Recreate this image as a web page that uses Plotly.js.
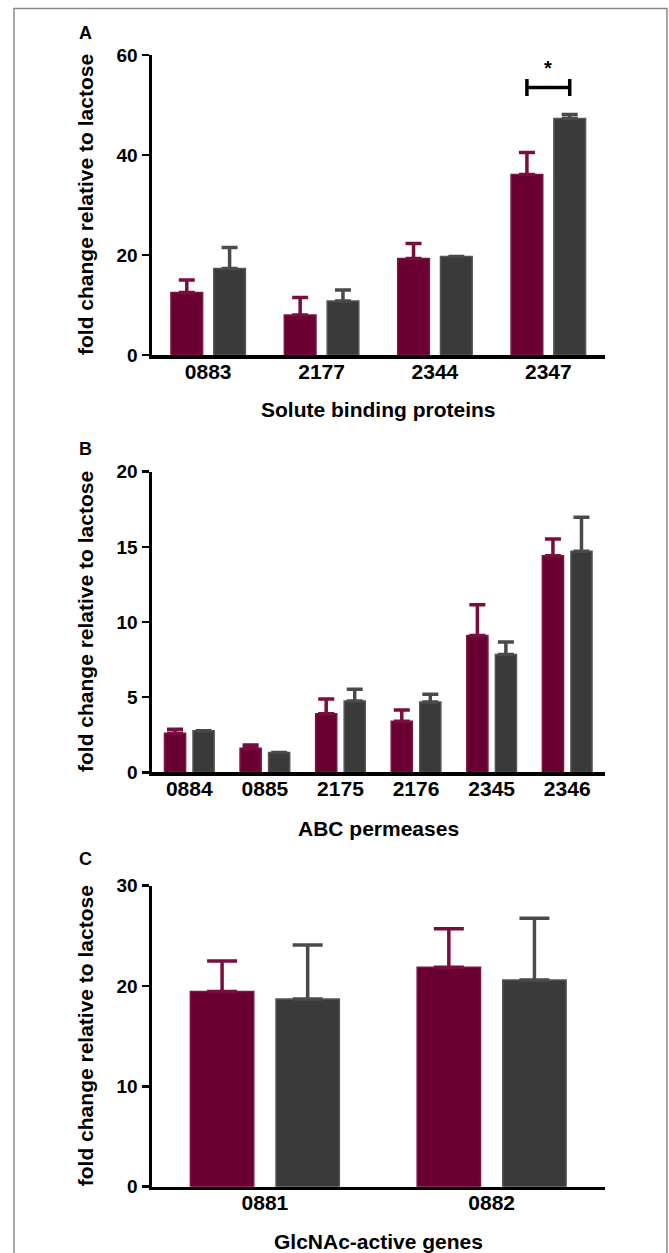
<!DOCTYPE html>
<html><head><meta charset="utf-8">
<script src="https://cdn.plot.ly/plotly-3.0.1.min.js"></script>
<style>html,body{margin:0;padding:0;background:#fff}</style>
</head><body>
<div id="chart" style="width:669px;height:1253px"></div>
<script>
// ---- data ----
const catsA = ['0883', '2177', '2344', '2347'];
const maroonA = [12.5, 8.0, 19.3, 36.1];
const errMaroonA = [2.5, 3.5, 3.0, 4.4];
const greyA = [17.3, 10.8, 19.7, 47.3];
const errGreyA = [4.2, 2.2, 0, 0.8];

const catsB = ['0884', '0885', '2175', '2176', '2345', '2346'];
const maroonB = [2.6, 1.6, 3.9, 3.4, 9.1, 14.4];
const errMaroonB = [0.27, 0.22, 0.97, 0.75, 2.05, 1.13];
const greyB = [2.77, 1.31, 4.75, 4.67, 7.84, 14.7];
const errGreyB = [0, 0, 0.78, 0.53, 0.83, 2.27];

const catsC = ['0881', '0882'];
const maroonC = [19.45, 21.87];
const errMaroonC = [3.05, 3.83];
const greyC = [18.7, 20.6];
const errGreyC = [5.4, 6.15];

const sigCategory = '2347';
const sigY = 53.5;

const panelLabels = ['A', 'B', 'C'];
const xTitles = ['Solute binding proteins', 'ABC permeases', 'GlcNAc-active genes'];
const yTitle = 'fold change relative to lactose';
const yRanges = [[0, 60], [0, 20], [0, 30]];
const yDticks = [20, 5, 10];

// ---- layout helpers ----
const W = 669, H = 1253;
const px = v => v / W;
const py = v => 1 - v / H;
const FONT = 'Liberation Sans, Arial, Helvetica, sans-serif';
const MAROON = '#6a0031', MAROON_EDGE = '#7d1445', MAROON_ERR = '#7a0d40';
const GREY = '#3a3a3a', GREY_EDGE = '#555555', GREY_ERR = '#4a4a4a';
const BARGAP = 0.245;

const xDom = [px(151.5), px(605)];
const panels = [
  {top: 55, bottom: 355, label: 33, xt: 409, cap: 8},
  {top: 471.7, bottom: 772.3, label: 449, xt: 828, cap: 8},
  {top: 885.7, bottom: 1186.7, label: 859, xt: 1241.5, cap: 15}
];
const cats = [catsA, catsB, catsC];
const maroon = [maroonA, maroonB, maroonC];
const errM = [errMaroonA, errMaroonB, errMaroonC];
const grey = [greyA, greyB, greyC];
const errG = [errGreyA, errGreyB, errGreyC];

const traces = [];
const layout = {
  width: W, height: H,
  margin: {l: 0, r: 0, t: 0, b: 0},
  paper_bgcolor: '#fff', plot_bgcolor: '#fff',
  showlegend: false,
  barmode: 'group', bargap: BARGAP, bargroupgap: 0.26,
  font: {family: FONT, color: '#000'},
  annotations: [], shapes: []
};

panels.forEach((p, i) => {
  const k = i === 0 ? '' : String(i + 1);
  const xa = 'x' + k, ya = 'y' + k;
  const zeros = cats[i].map(() => 0);
  traces.push({
    type: 'bar', x: cats[i], y: maroon[i], xaxis: xa, yaxis: ya, name: 'series 1',
    marker: {color: MAROON, line: {color: MAROON_EDGE, width: 1.5}},
    error_y: {type: 'data', symmetric: false, array: errM[i], arrayminus: zeros,
              color: MAROON_ERR, thickness: 3.5, width: p.cap},
    hoverinfo: 'x+y'
  });
  traces.push({
    type: 'bar', x: cats[i], y: grey[i], xaxis: xa, yaxis: ya, name: 'series 2',
    marker: {color: GREY, line: {color: GREY_EDGE, width: 1.5}},
    error_y: {type: 'data', symmetric: false, array: errG[i], arrayminus: zeros,
              color: GREY_ERR, thickness: 3.5, width: p.cap},
    hoverinfo: 'x+y'
  });
  layout['xaxis' + k] = {
    domain: xDom, anchor: ya, type: 'category',
    range: [-0.5, cats[i].length - 0.5],
    showline: true, linewidth: 3.5, linecolor: '#000',
    ticks: '', showgrid: false, zeroline: false,
    ticklabelstandoff: -5,
    tickfont: {family: FONT, size: 21, weight: 'bold', color: '#000'},
    fixedrange: true
  };
  layout['yaxis' + k] = {
    domain: [py(p.bottom), py(p.top)], anchor: xa,
    range: yRanges[i], dtick: yDticks[i], tick0: 0,
    showline: true, linewidth: 3, linecolor: '#000',
    ticks: 'outside', ticklen: 7, tickwidth: 2.5, tickcolor: '#000',
    showgrid: false, zeroline: false,
    tickfont: {family: FONT, size: 19, weight: 'bold', color: '#000'},
    fixedrange: true
  };
  layout.annotations.push({
    xref: 'paper', yref: 'paper', x: px(85), y: py(p.label),
    text: panelLabels[i], showarrow: false, xanchor: 'center', yanchor: 'middle',
    font: {family: FONT, size: 18, weight: 'bold', color: '#000'}
  });
  layout.annotations.push({
    xref: 'paper', yref: 'paper', x: (xDom[0] + xDom[1]) / 2, y: py(p.xt),
    text: xTitles[i], showarrow: false, xanchor: 'center', yanchor: 'middle',
    font: {family: FONT, size: 21, weight: 'bold', color: '#000'}
  });
  layout.annotations.push({
    xref: 'paper', yref: 'paper', x: px(85), y: py((p.top + p.bottom) / 2),
    text: yTitle, showarrow: false, textangle: -90, xanchor: 'center', yanchor: 'middle',
    font: {family: FONT, size: 21, weight: 'bold', color: '#000'}
  });
});

// significance bracket on panel A, between the two bar centres of sigCategory
const ci = catsA.indexOf(sigCategory);
const off = (1 - BARGAP) / 4;
const x0 = ci - off, x1 = ci + off;
const tickH = 1.7;
layout.shapes.push(
  {type: 'line', xref: 'x', yref: 'y', x0: x0, x1: x1, y0: sigY, y1: sigY, line: {color: '#000', width: 3.5}},
  {type: 'line', xref: 'x', yref: 'y', x0: x0, x1: x0, y0: sigY - tickH, y1: sigY + tickH, line: {color: '#000', width: 3.5}},
  {type: 'line', xref: 'x', yref: 'y', x0: x1, x1: x1, y0: sigY - tickH, y1: sigY + tickH, line: {color: '#000', width: 3.5}}
);
layout.annotations.push({
  xref: 'x', yref: 'y', x: ci, y: sigY + 1.2, text: '*', showarrow: false,
  xanchor: 'center', yanchor: 'bottom',
  font: {family: FONT, size: 20, weight: 'bold', color: '#000'}
});

// outer frame
layout.shapes.push({
  type: 'rect', xref: 'paper', yref: 'paper', x0: px(14), x1: px(667), y0: -0.02, y1: py(8.5),
  line: {color: '#8a8a8a', width: 1.5}, fillcolor: 'rgba(0,0,0,0)', layer: 'below'
});

Plotly.newPlot('chart', traces, layout, {displayModeBar: false, staticPlot: true});
</script>
</body></html>
